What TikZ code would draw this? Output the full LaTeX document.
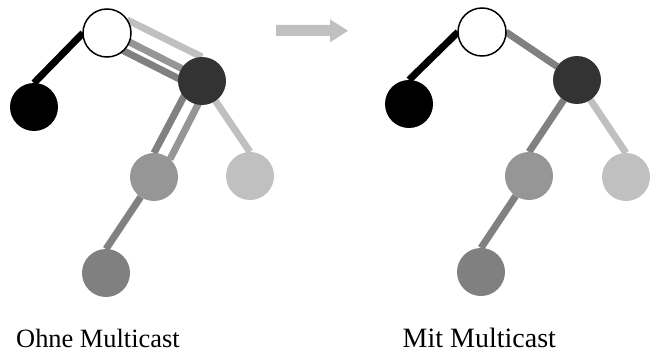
\documentclass[tikz,border=0pt]{standalone}
\usepackage{fontspec}
\setmainfont{Liberation Serif}
\usetikzlibrary{backgrounds,calc}
\definecolor{cdark}{HTML}{333333}
\definecolor{cmid}{HTML}{969696}
\definecolor{clight}{HTML}{C0C0C0}
\definecolor{cbot}{HTML}{808080}
\begin{document}
\begin{tikzpicture}[x=1pt,y=-1pt,
  nd/.style={circle,minimum size=48pt,inner sep=0pt,outer sep=0pt},
  ln/.style={line width=7pt},
  lab/.style={anchor=base west,inner sep=0pt}]
\useasboundingbox (0,0) rectangle (653,353);
% left tree
\node[nd,fill=white,draw=black,line width=1.5pt] (w1) at (107,33) {};
\node[nd,fill=cdark] (d1) at (202,81) {};
\node[nd,fill=black] (b1) at (34,107) {};
\node[nd,fill=cmid] (m1) at (154,177) {};
\node[nd,fill=clight] (l1) at (250,176) {};
\node[nd,fill=cbot] (g1) at (106,273) {};
% right tree
\node[nd,fill=white,draw=black,line width=1.5pt] (w2) at (482,32) {};
\node[nd,fill=cdark] (d2) at (577,80) {};
\node[nd,fill=black] (b2) at (409,104) {};
\node[nd,fill=cmid] (m2) at (529,176) {};
\node[nd,fill=clight] (l2) at (626,177) {};
\node[nd,fill=cbot] (g2) at (481,272) {};
% labels
\node[lab,font=\fontsize{26.4}{30}\selectfont] (t1) at (16,347) {Ohne Multicast};
\node[lab,font=\fontsize{28}{32}\selectfont] (t2) at (402.5,347) {Mit Multicast};
% arrow
\fill[clight] (276,25) -- (330,25) -- (330,19.3) -- (348,30.8) -- (330,42.3) -- (330,36) -- (276,36) -- cycle;
\begin{scope}[on background layer]
  % left edges
  \draw[ln,black] (w1.west) -- (b1.north);
  \draw[ln,clight] (w1.33) -- (d1.north);
  \draw[ln,cmid] ($(w1)+(0.9pt,1.8pt)$) -- ($(d1)+(0.9pt,1.8pt)$);
  \draw[ln,cbot] ($(w1)+(-3.8pt,-7.5pt)$) -- ($(d1)+(-3.8pt,-7.5pt)$);
  \draw[ln,cbot] ($(d1)+(-10pt,0pt)$) -- (m1.north);
  \draw[ln,cmid] ($(d1)+(8pt,0pt)$) -- (m1.48);
  \draw[ln,clight] (d1) -- (l1.north);
  \draw[ln,cbot] (m1) -- (g1.north);
  % right edges
  \draw[ln,black] (w2.west) -- (b2.north);
  \draw[ln,cbot] (w2.east) -- (d2);
  \draw[ln,cbot] (d2) -- (m2.north);
  \draw[ln,clight] (d2) -- (l2.north);
  \draw[ln,cbot] (m2) -- (g2.north);
\end{scope}
\end{tikzpicture}
\end{document}
